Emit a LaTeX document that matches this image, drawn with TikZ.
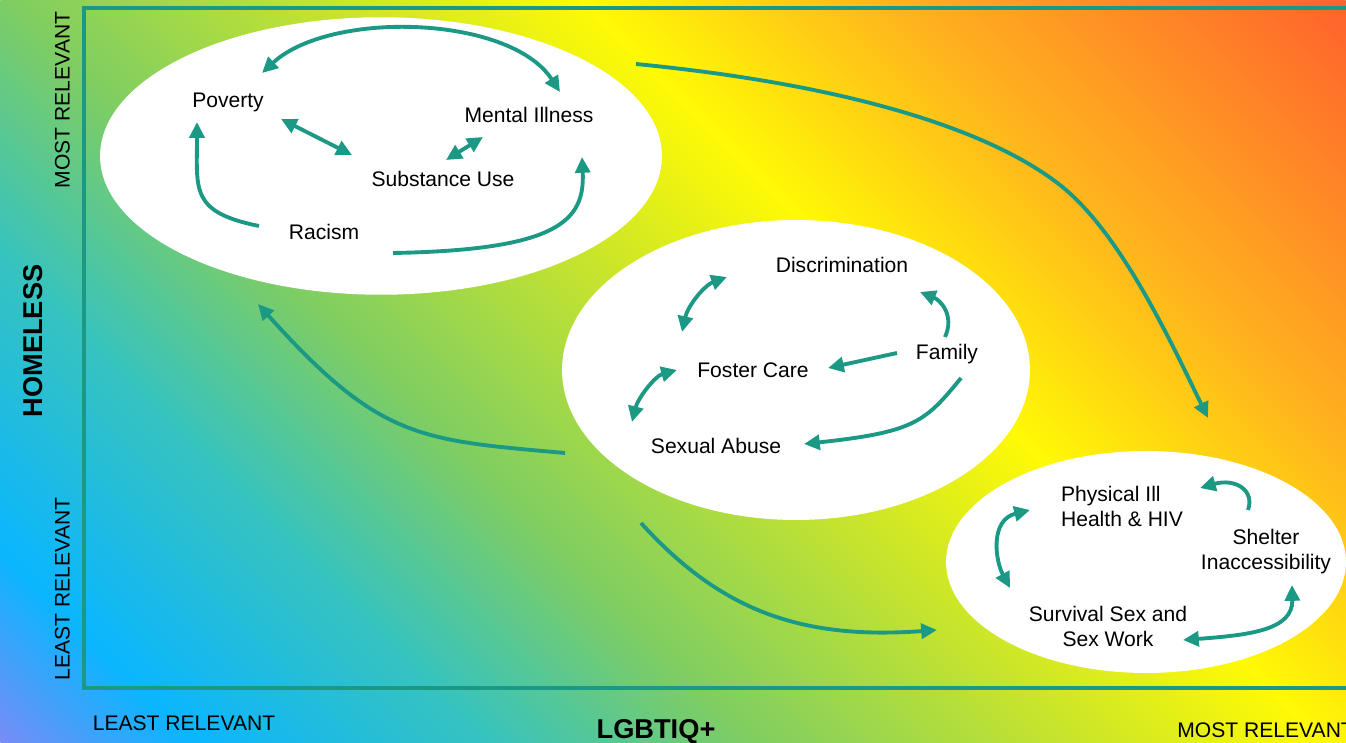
\documentclass[tikz,border=0pt]{standalone}
\usepackage{fontspec}
\setmainfont{Liberation Sans}
\usetikzlibrary{shapes.geometric,arrows.meta,calc}

\definecolor{teal1}{RGB}{27,153,133}
\definecolor{bgA}{RGB}{120,140,245}
\definecolor{bgB}{RGB}{10,182,255}
\definecolor{bgC}{RGB}{55,195,190}
\definecolor{bgD}{RGB}{125,205,100}
\definecolor{bgE}{RGB}{205,230,40}
\definecolor{bgF}{RGB}{255,250,5}
\definecolor{bgG}{RGB}{255,178,30}
\definecolor{bgH}{RGB}{255,98,45}
\pgfdeclarehorizontalshading{bgfade}{100bp}{color(0bp)=(bgA); color(25bp)=(bgA);
  color(29.6bp)=(bgB); color(36.8bp)=(bgC); color(42.8bp)=(bgD); color(51.2bp)=(bgE);
  color(56.7bp)=(bgF); color(64.3bp)=(bgG); color(75bp)=(bgH); color(100bp)=(bgH)}

\begin{document}
\begin{tikzpicture}[x=0.02cm, y=-0.02cm,
    lbl/.style = {font=\fontsize{12}{14.2}\selectfont, text height=8.6pt, text depth=0pt, inner sep=0pt},
    lbltwo/.style = {font=\fontsize{12}{14.2}\selectfont, inner sep=0pt},
    axtxt/.style = {font=\fontsize{12}{14.2}\selectfont, text height=8.6pt, text depth=0pt, inner sep=0pt},
    axttl/.style = {font=\bfseries\fontsize{15.5}{18}\selectfont, text height=11.1pt, text depth=0pt, inner sep=0pt},
    ax/.style = {draw=teal1, line width=2pt},
    blob/.style = {ellipse, fill=white, inner sep=0pt},
    link/.style = {draw=teal1, line width=2.2pt, -{Triangle[length=9pt,width=8.5pt]}},
    both/.style = {link, {Triangle[length=9pt,width=8.5pt]}-{Triangle[length=9pt,width=8.5pt]}}
    ]
    \useasboundingbox (0,0) rectangle (1346,743);
    % background
    \begin{scope}
      \clip (0,0) rectangle (1346,743);
      \begin{scope}[transform canvas={rotate around={45:(673,371.5)}}]
        \shade[shading=bgfade] (-65,-366.5) rectangle (1411,1109.5);
      \end{scope}
    \end{scope}
    \draw[ax] (1346,8) -- (84,8) -- (84,688) -- (1346,688);

    % axis texts
    \node[axtxt,rotate=90] (yhi) at (62,100) {MOST RELEVANT};
    \node[axtxt,rotate=90] (ylo) at (62,589) {LEAST RELEVANT};
    \node[axttl,rotate=90] (yttl) at (33,341) {HOMELESS};
    \node[axtxt] (xlo) at (184,723) {LEAST RELEVANT};
    \node[axttl] (xttl) at (656,729) {LGBTIQ+};
    \node[axtxt,anchor=west] (xhi) at (1177,730) {MOST RELEVANT};

    % groups
    \node[blob, minimum width=11.24cm, minimum height=5.55cm] (eTop) at (381,156) {};
    \node[blob, minimum width=9.36cm, minimum height=6cm] (eMid) at (796,370) {};
    \node[blob, minimum width=8cm, minimum height=4.44cm] (eLow) at (1146,562) {};

    \node[lbl] (pov) at (228,100) {Poverty};
    \node[lbl] (ment) at (529,115) {Mental Illness};
    \node[lbl] (subst) at (443,179) {Substance Use};
    \node[lbl] (rac) at (324,232) {Racism};
    \node[lbl] (discr) at (842,265) {Discrimination};
    \node[lbl] (fam) at (947,352) {Family};
    \node[lbl] (fost) at (753,370) {Foster Care};
    \node[lbl] (abuse) at (716,446) {Sexual Abuse};
    \node[lbltwo,align=left] (phys) at (1122,506) {Physical Ill\\Health \& HIV};
    \node[lbltwo,align=center] (shelt) at (1266,552) {Shelter\\Inaccessibility};
    \node[lbltwo,align=center] (surv) at (1108,626) {Survival Sex and\\Sex Work};

    % top group
    \draw[both] ($(pov)+(34,-27)$) .. controls (330,10) and (510,15) .. ($(ment)+(31,-23)$);
    \draw[both] ($(pov)+(53,19)$) -- ($(subst)+(-91,-24)$);
    \draw[both] ($(subst)+(3,-19)$) -- ($(ment)+(-46,22)$);
    \draw[link] ($(rac)+(-65,-6)$) .. controls (190,212) and (197,190) .. ($(pov)+(-31,22)$);
    \draw[link] ($(rac)+(69,21)$) .. controls (560,250) and (585,220) .. ($(ment)+(53,42)$);
    % middle group
    \draw[both] ($(discr)+(-115,12)$) .. controls (705,285) and (688,305) .. ($(fost)+(-71,-38)$);
    \draw[both] ($(fost)+(-76,0)$) .. controls (655,376) and (638,398) .. ($(abuse)+(-84,-24)$);
    \draw[link] ($(fam)+(-50,1)$) -- ($(fost)+(75,-2)$);
    \draw[link] ($(fam)+(-2,-15)$) .. controls (955,315) and (940,300) .. ($(discr)+(78,27)$);
    \draw[link] ($(fam)+(14,26)$) .. controls (925,422) and (915,432) .. ($(abuse)+(88,-2)$);
    % bottom group
    \draw[both] ($(phys)+(-92,4)$) .. controls (990,520) and (995,560) .. ($(surv)+(-98,-38)$);
    \draw[link] ($(shelt)+(-18,-42)$) .. controls (1255,490) and (1235,478) .. ($(phys)+(78,-18)$);
    \draw[both] ($(surv)+(75,14)$) .. controls (1250,635) and (1293,630) .. ($(shelt)+(26,33)$);

    % between groups
    \draw[link] ($(eTop)+(255,-92)$) .. controls (850,85) and (990,130) .. (1060,185)
      .. controls (1120,232) and (1170,340) .. ($(eLow)+(62,-144)$);
    \draw[link] ($(eMid)+(-231,83)$) .. controls (420,440) and (380,440) .. ($(eTop)+(-123,148)$);
    \draw[link] ($(eMid)+(-155,153)$) .. controls (720,610) and (800,640) .. ($(eLow)+(-209,68)$);
\end{tikzpicture}
\end{document}
